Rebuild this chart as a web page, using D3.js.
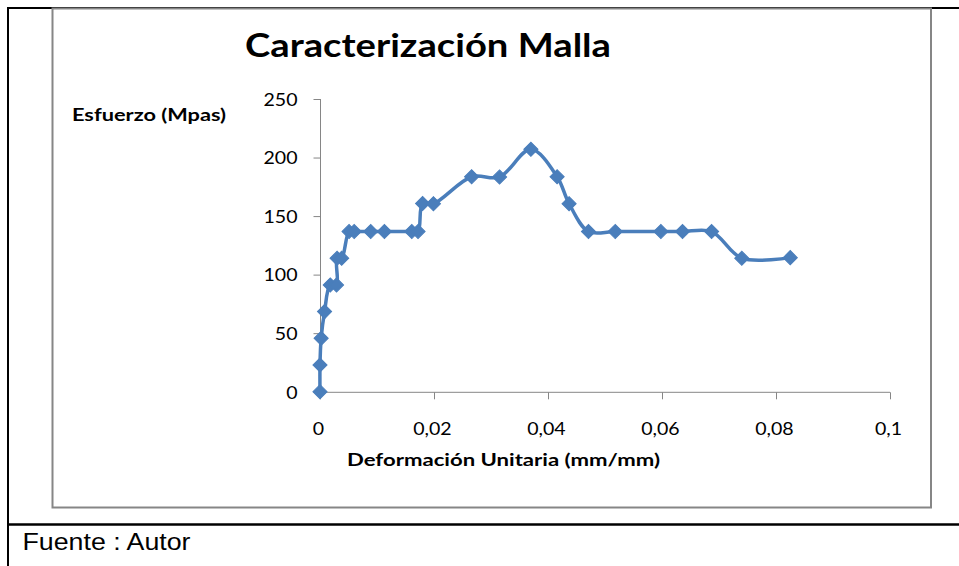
<!DOCTYPE html>
<html>
<head>
<meta charset="utf-8">
<script src="https://cdn.jsdelivr.net/npm/d3@7"></script>
<style>
  html, body { margin: 0; padding: 0; background: #fff; }
  svg { display: block; }
</style>
</head>
<body>
<svg id="chart" width="959" height="566"></svg>
<script>
// ---- data ----
const titleText = "Caracterización Malla";
const yTitleText = "Esfuerzo (Mpas)";
const xTitleText = "Deformación Unitaria (mm/mm)";
const sourceText = "Fuente : Autor";

const strain = [0, 0, 0.0002, 0.0008, 0.0018, 0.0029, 0.0030, 0.0038, 0.0051, 0.0060,
                0.0089, 0.0113, 0.0161, 0.0172, 0.0180, 0.0199, 0.0266, 0.0315, 0.0370,
                0.0416, 0.0437, 0.0471, 0.0518, 0.0598, 0.0636, 0.0687, 0.0740, 0.0825];
const stress = [0, 22.8, 45.6, 68.4, 91.2, 91.2, 114, 114, 136.8, 136.8,
                136.8, 136.8, 136.8, 136.8, 160.8, 160.6, 183.6, 183.4, 207,
                183.6, 160.6, 136.8, 136.8, 136.8, 136.8, 136.8, 114, 114.5];
const xTicks = [0, 0.02, 0.04, 0.06, 0.08, 0.1];
const xTickLabels = ["0", "0,02", "0,04", "0,06", "0,08", "0,1"];
const yTicks = [0, 50, 100, 150, 200, 250];

// ---- drawing ----
const svg = d3.select("#chart");
const blue = "#4A7EBB";
const axisGray = "#868686";

// outer table borders
svg.append("line").attr("x1", 8).attr("x2", 959).attr("y1", 8).attr("y2", 8)
  .attr("stroke", "#000").attr("stroke-width", 2);
svg.append("line").attr("x1", 8).attr("x2", 8).attr("y1", 7).attr("y2", 566)
  .attr("stroke", "#000").attr("stroke-width", 2);
svg.append("line").attr("x1", 8).attr("x2", 959).attr("y1", 524.5).attr("y2", 524.5)
  .attr("stroke", "#000").attr("stroke-width", 2.3);

// chart frame
svg.append("rect").attr("x", 52.5).attr("y", 8.5).attr("width", 878.5).attr("height", 499)
  .attr("fill", "none").attr("stroke", axisGray).attr("stroke-width", 2);

const x = d3.scaleLinear().domain([0, 0.1]).range([320, 890]);
const y = d3.scaleLinear().domain([0, 250]).range([391.7, 99]);

// y axis
const yAxis = d3.axisLeft(y).tickValues(yTicks).tickSize(7).tickFormat(d3.format("d"));
const gy = svg.append("g").attr("transform", "translate(320.5,0)").call(yAxis);
gy.select(".domain").attr("stroke", axisGray).attr("d", `M0,${y(250)}V${y(0)}`);
gy.selectAll(".tick line").attr("stroke", axisGray);
gy.selectAll(".tick text").remove();
gy.selectAll(".tick").append("text")
  .attr("text-anchor", "end")
  .attr("transform", "translate(-23,6.3) scale(1.15,1)")
  .attr("font-family", "Lato")
  .attr("font-size", 17)
  .attr("fill", "#000")
  .text(d => d);

// x axis
const xAxis = d3.axisBottom(x).tickValues(xTicks).tickSize(7);
const gx = svg.append("g").attr("transform", "translate(0,392.3)").call(xAxis);
gx.select(".domain").attr("stroke", axisGray).attr("d", `M${x(0)},0H${x(0.1)}`);
gx.selectAll(".tick line").attr("stroke", axisGray);
gx.selectAll(".tick text").remove();
gx.selectAll(".tick").append("text")
  .attr("text-anchor", "middle")
  .attr("transform", "translate(-2,42.3) scale(1.15,1)")
  .attr("font-family", "Lato")
  .attr("font-size", 17)
  .attr("fill", "#000")
  .text((d, i) => xTickLabels[i]);

// series line
const pts = strain.map((s, i) => [s, stress[i]]);
const line = d3.line().x(d => x(d[0])).y(d => y(d[1])).curve(d3.curveCatmullRom.alpha(0.5));
svg.append("path").datum(pts).attr("d", line)
  .attr("fill", "none").attr("stroke", blue).attr("stroke-width", 3.5)
  .attr("stroke-linejoin", "round");

// diamond markers
const diamond = d3.symbol().type(d3.symbolSquare).size(100);
svg.append("g").selectAll("path").data(pts).join("path")
  .attr("d", diamond)
  .attr("transform", d => `translate(${x(d[0])},${y(d[1])}) rotate(45)`)
  .attr("fill", blue).attr("stroke", blue).attr("stroke-width", 1);

// titles
svg.append("text").attr("x", 245).attr("y", 57)
  .attr("font-family", "Lato").attr("font-weight", "bold").attr("font-size", 32)
  .attr("textLength", 366).attr("lengthAdjust", "spacingAndGlyphs")
  .attr("fill", "#000").text(titleText);

svg.append("text").attr("x", 72).attr("y", 120.7)
  .attr("font-family", "Lato").attr("font-weight", "bold").attr("font-size", 16.5)
  .attr("textLength", 154).attr("lengthAdjust", "spacingAndGlyphs")
  .attr("fill", "#000").text(yTitleText);

svg.append("text").attr("x", 347).attr("y", 466)
  .attr("font-family", "Lato").attr("font-weight", "bold").attr("font-size", 16.5)
  .attr("textLength", 313).attr("lengthAdjust", "spacingAndGlyphs")
  .attr("fill", "#000").text(xTitleText);

svg.append("text").attr("x", 22.5).attr("y", 550)
  .attr("font-family", "Liberation Sans, Arial, sans-serif").attr("font-size", 23)
  .attr("textLength", 168).attr("lengthAdjust", "spacingAndGlyphs")
  .attr("fill", "#000").text(sourceText);
</script>
</body>
</html>
